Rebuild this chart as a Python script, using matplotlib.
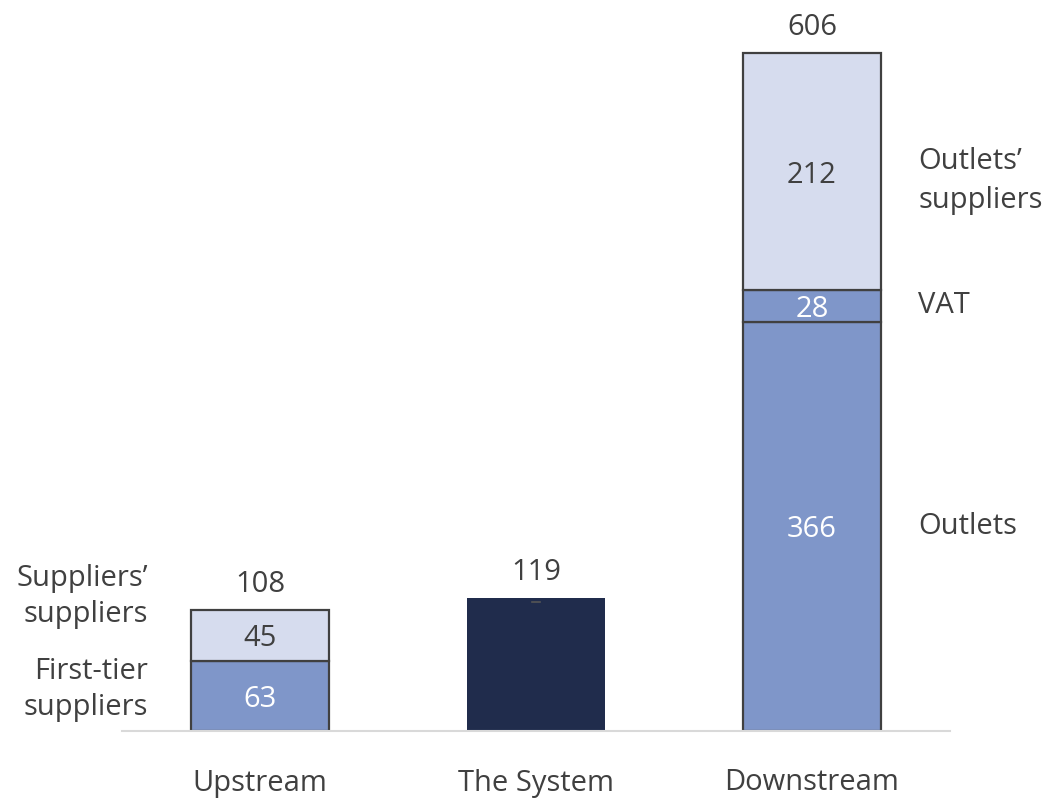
import matplotlib.pyplot as plt
import numpy as np

plt.rcParams['font.family'] = ['Open Sans', 'DejaVu Sans']

categories = ['Upstream', 'The System', 'Downstream']
first_tier = [63, 0, 366]      # Upstream first-tier / Downstream outlets
vat = [0, 0, 28]
second_tier = [45, 0, 212]     # suppliers' suppliers / outlets' suppliers
system = [0, 119, 0]
totals = [108, 119, 606]

light = '#D6DCEE'
mid = '#7F96C9'
navy = '#202C4C'
edge = '#404040'
txt = '#404040'

fig = plt.figure(figsize=(10.46, 7.98), dpi=100)
ax = fig.add_axes([122 / 1046, 67 / 798, 828 / 1046, 727 / 798])

x = np.arange(len(categories))
w = 0.5
fs = 21

first_tier = np.array(first_tier)
vat = np.array(vat)
second_tier = np.array(second_tier)

for i in [0, 2]:
    ax.bar(x[i], first_tier[i], w, color=mid, edgecolor=edge, linewidth=1.6)
    if vat[i]:
        ax.bar(x[i], vat[i], w, bottom=first_tier[i], color=mid, edgecolor=edge, linewidth=1.6)
    ax.bar(x[i], second_tier[i], w, bottom=first_tier[i] + vat[i], color=light,
           edgecolor=edge, linewidth=1.6)

ax.bar(x[1], system[1], w, color=navy, linewidth=0)
ax.plot([x[1] - 0.015, x[1] + 0.015], [system[1] - 4, system[1] - 4], color='#555555', lw=1.2)

# segment values
for i in [0, 2]:
    ax.text(x[i], first_tier[i] / 2, str(first_tier[i]), ha='center', va='center_baseline',
            color='white', fontsize=fs)
    if vat[i]:
        ax.text(x[i], first_tier[i] + vat[i] / 2, str(vat[i]), ha='center',
                va='center_baseline', color='white', fontsize=fs)
    ax.text(x[i], first_tier[i] + vat[i] + second_tier[i] / 2, str(second_tier[i]),
            ha='center', va='center_baseline', color=txt, fontsize=fs)

for i, t in enumerate(totals):
    ax.text(x[i], t + 10, str(t), ha='center', va='bottom', color=txt, fontsize=fs)

# series names beside the bars
ax.text(2.385, first_tier[2] + vat[2] + second_tier[2] / 2 - 8, 'Outlets\u2019\nsuppliers',
        ha='left', va='center', color=txt, fontsize=fs, linespacing=1.45)
ax.text(2.385, first_tier[2] + vat[2] / 2, 'VAT', ha='left', va='center', color=txt, fontsize=fs)
ax.text(2.385, first_tier[2] / 2, 'Outlets', ha='left', va='center', color=txt, fontsize=fs)
ax.text(-0.405, 120, 'Suppliers\u2019\nsuppliers', ha='right', va='center', color=txt,
        fontsize=fs, linespacing=1.3)
ax.text(-0.405, 37, 'First-tier\nsuppliers', ha='right', va='center', color=txt,
        fontsize=fs, linespacing=1.3)

ax.set_xlim(-0.5, 2.5)
ax.set_ylim(0, 650)
ax.set_xticks(x)
ax.set_xticklabels(categories, fontsize=fs, color=txt)
ax.tick_params(axis='x', length=0, pad=27)
ax.set_yticks([])
for s in ['top', 'right', 'left']:
    ax.spines[s].set_visible(False)
ax.spines['bottom'].set_color('#D9D9D9')
ax.spines['bottom'].set_linewidth(1.5)

fig.savefig('out.png', dpi=100)
